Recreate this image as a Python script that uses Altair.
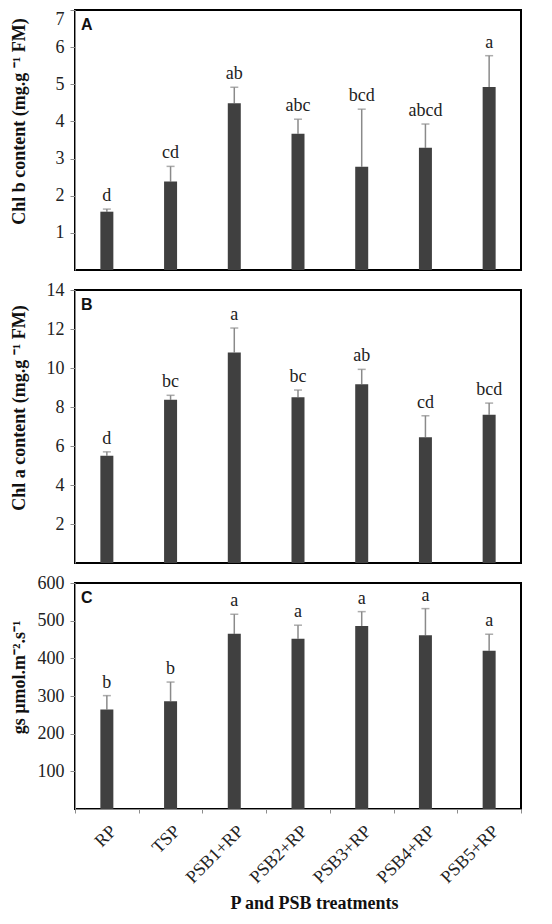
import altair as alt
import pandas as pd

treatments = ["RP", "TSP", "PSB1+RP", "PSB2+RP", "PSB3+RP", "PSB4+RP", "PSB5+RP"]

chl_b_mean = [1.57, 2.38, 4.49, 3.67, 2.78, 3.29, 4.93]
chl_b_err = [0.07, 0.41, 0.43, 0.39, 1.55, 0.64, 0.84]
chl_b_letters = ["d", "cd", "ab", "abc", "bcd", "abcd", "a"]
chl_b_ticks = [1, 2, 3, 4, 5, 6, 7]

chl_a_mean = [5.5, 8.37, 10.8, 8.5, 9.17, 6.45, 7.6]
chl_a_err = [0.2, 0.23, 1.25, 0.37, 0.76, 1.1, 0.6]
chl_a_letters = ["d", "bc", "a", "bc", "ab", "cd", "bcd"]
chl_a_ticks = [2, 4, 6, 8, 10, 12, 14]

gs_mean = [264, 286, 465, 452, 486, 461, 420]
gs_err = [37, 51, 52, 36, 38, 71, 44]
gs_letters = ["b", "b", "a", "a", "a", "a", "a"]
gs_ticks = [100, 200, 300, 400, 500, 600]

SERIF = "Liberation Serif"
W = 446


def panel(mean, err, letters, ymax, yticks, ytitle, tag, height, show_x, flush=False):
    df = pd.DataFrame({
        "t": treatments,
        "v": mean,
        "top": [m + e for m, e in zip(mean, err)],
        "lab": letters,
    })
    if show_x:
        xaxis = alt.Axis(
            labelAngle=-45, tickBand="extent", title="P and PSB treatments",
            titleFontSize=18, titleX=W / 2 + 16, titlePadding=8, labelPadding=9,
            labelFontSize=18, tickSize=4,
        )
    else:
        xaxis = None
    x = alt.X("t:N", sort=treatments,
              scale=alt.Scale(paddingInner=0, paddingOuter=0), axis=xaxis)
    base = alt.Chart(df).encode(x=x)
    yaxis = alt.Axis(values=yticks, title=ytitle, titleX=-56, titleY=height / 2 - 19,
                     titleBaseline="middle", labelFlush=flush, titleFontSize=18)
    bars = base.mark_bar(size=13, color="#404040").encode(
        y=alt.Y("v:Q", scale=alt.Scale(domain=[0, ymax], nice=False), axis=yaxis)
    )
    rule = base.mark_rule(color="#8a8a8a", strokeWidth=1.5).encode(y="v:Q", y2="top:Q")
    cap = base.mark_tick(color="#8a8a8a", thickness=1.5, size=8).encode(y="top:Q")
    txt = base.mark_text(baseline="alphabetic", dy=-8, font=SERIF, fontSize=18,
                         color="#222222").encode(y="top:Q", text="lab:N")
    tagc = alt.Chart(pd.DataFrame({"tag": [tag]})).mark_text(
        font="Liberation Sans", fontWeight="bold", fontSize=16, align="left",
        baseline="middle", color="#111111"
    ).encode(x=alt.value(6), y=alt.value(15), text="tag:N")
    return alt.layer(rule, cap, bars, txt, tagc).properties(width=W, height=height)


pA = panel(chl_b_mean, chl_b_err, chl_b_letters, 7, chl_b_ticks,
           "Chl b content (mg.g ⁻¹ FM)", "A", 260, False, flush=True)
pB = panel(chl_a_mean, chl_a_err, chl_a_letters, 14, chl_a_ticks,
           "Chl a content (mg.g ⁻¹ FM)", "B", 273, False)
pC = panel(gs_mean, gs_err, gs_letters, 600, gs_ticks,
           "gs µmol.m⁻².s⁻¹", "C", 226, True)

chart = alt.vconcat(pA, pB, pC, spacing=20, bounds="flush").properties(
    padding={"left": 0, "top": 0, "right": 5, "bottom": 0}
).configure_view(
    stroke="black", strokeWidth=2
).configure_axis(
    grid=False, domainColor="#8c8c8c", tickColor="#8c8c8c", labelColor="#222222",
    titleColor="#111111", labelFont=SERIF, titleFont=SERIF, labelFontSize=18,
    titleFontWeight="bold", tickSize=5, labelPadding=6
)

chart.save("out.html", embed_options={"renderer": "svg", "actions": False})
